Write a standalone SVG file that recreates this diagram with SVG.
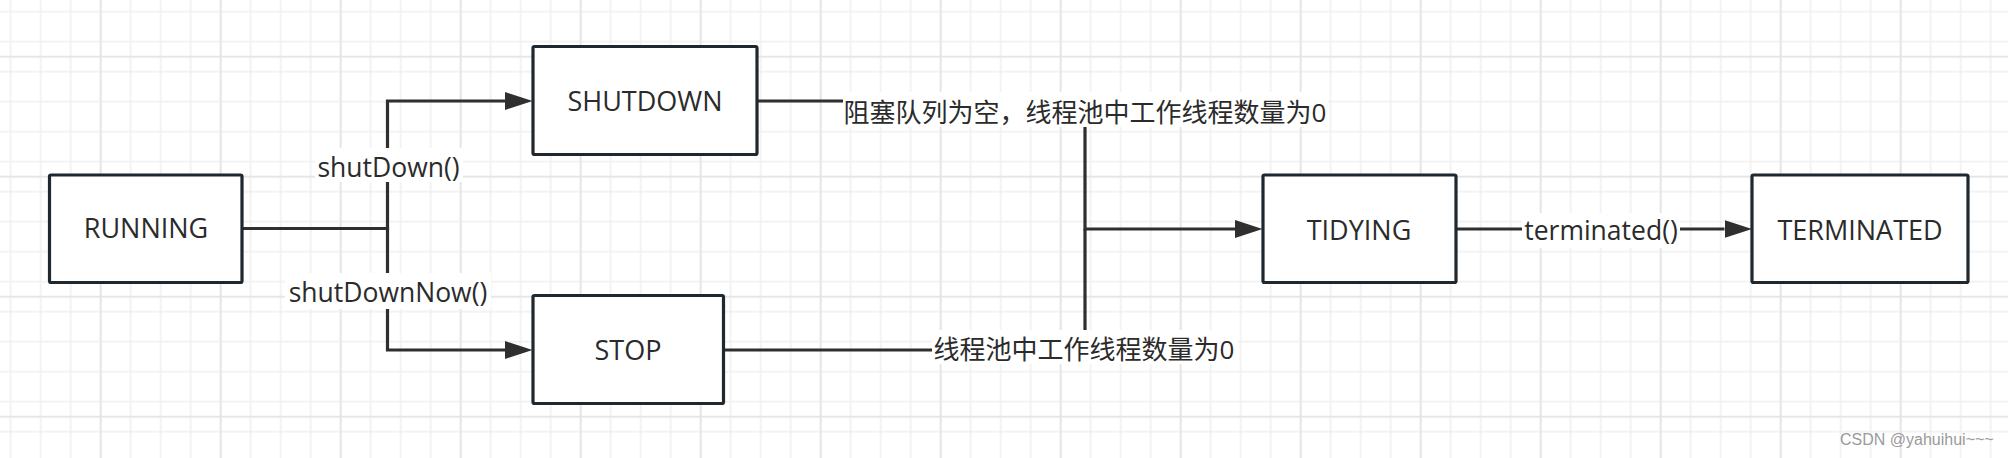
<svg xmlns="http://www.w3.org/2000/svg" width="2008" height="458" viewBox="0 0 2008 458">
<style>
.node rect{fill:#fff;stroke:#1f272f;stroke-width:3.2}
.node text{font-family:"Open Sans","Noto Sans CJK SC",sans-serif;font-size:27px;fill:#2b2b2b;text-anchor:middle}
.edge{fill:none;stroke:#2f2f2f;stroke-width:3.2}
.lbl text{font-family:"Open Sans","Noto Sans CJK SC",sans-serif;font-size:26.5px;fill:#2b2b2b;text-anchor:middle}
.lbl text.cjk{font-size:26px}
.lbl rect{fill:#fff}
</style>
<defs>
<pattern id="gmin" width="30" height="30" patternUnits="userSpaceOnUse" x="-4.3" y="-3.3">
<path d="M15 0V30M0 15H30" stroke="#f0f0f0" stroke-width="1.6" fill="none"/>
</pattern>
<pattern id="gmaj" width="120" height="120" patternUnits="userSpaceOnUse" x="40.7" y="-3.3">
<path d="M60 0V120M0 60H120" stroke="#e6e6e6" stroke-width="1.8" fill="none"/>
</pattern>
<marker id="arr" markerUnits="userSpaceOnUse" markerWidth="30" markerHeight="20" refX="0" refY="9" orient="auto" viewBox="0 0 30 20">
<path d="M0 0L27.5 9L0 18z" fill="#2f2f2f"/>
</marker>
</defs>
<g id="background">
<rect width="2008" height="458" fill="#fff"/>
<rect width="2008" height="458" fill="url(#gmin)"/>
<rect width="2008" height="458" fill="url(#gmaj)"/>
</g>
<g id="connectors">
<path class="edge" d="M242 228.5H387.5V101H505" marker-end="url(#arr)"/>
<path class="edge" d="M242 228.5H387.5V350H505" marker-end="url(#arr)"/>
<path class="edge" d="M757 101H1085V229H1235" marker-end="url(#arr)"/>
<path class="edge" d="M724 350H1085V229"/>
<path class="edge" d="M1456 229H1724.5" marker-end="url(#arr)"/>
</g>
<g id="labels" class="lbl">
<g id="label-shutdown">
<rect x="315" y="148" width="148" height="34"/>
<text x="388.5" y="177">shutDown()</text>
</g>
<g id="label-shutdownnow">
<rect x="285" y="273" width="206" height="36"/>
<text x="388" y="302">shutDownNow()</text>
</g>
<g id="label-shutdown-tidying">
<rect x="843" y="92" width="485" height="35"/>
<text class="cjk" x="1085" y="121.5">阻塞队列为空，线程池中工作线程数量为0</text>
</g>
<g id="label-stop-tidying">
<rect x="932" y="330" width="306" height="34"/>
<text class="cjk" x="1084" y="359">线程池中工作线程数量为0</text>
</g>
<g id="label-terminated">
<rect x="1522" y="213" width="158" height="35"/>
<text x="1601" y="240">terminated()</text>
</g>
</g>
<g id="RUNNING" class="node">
<rect x="49.5" y="175" width="192.5" height="107.5" rx="1.5"/>
<text x="146" y="238">RUNNING</text>
</g>
<g id="SHUTDOWN" class="node">
<rect x="533" y="46.5" width="224" height="108" rx="1.5"/>
<text x="645" y="111">SHUTDOWN</text>
</g>
<g id="STOP" class="node">
<rect x="533" y="295.5" width="190.5" height="108" rx="1.5"/>
<text x="628" y="360">STOP</text>
</g>
<g id="TIDYING" class="node">
<rect x="1263" y="175" width="193" height="107.5" rx="1.5"/>
<text x="1359" y="240">TIDYING</text>
</g>
<g id="TERMINATED" class="node">
<rect x="1752" y="175" width="216" height="107.5" rx="1.5"/>
<text x="1860" y="240">TERMINATED</text>
</g>
<text id="watermark" x="1840" y="445" font-family="Liberation Sans, Arial, sans-serif" font-size="16" fill="#9a9a9a">CSDN @yahuihui~~~</text>
</svg>
